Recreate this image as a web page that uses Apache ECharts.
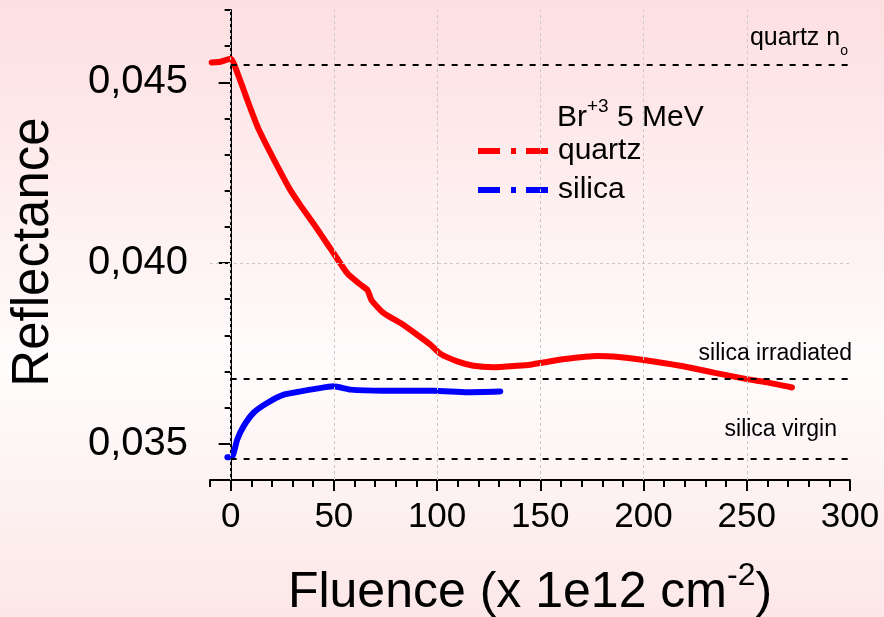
<!DOCTYPE html>
<html>
<head>
<meta charset="utf-8">
<script src="https://cdn.jsdelivr.net/npm/echarts@6/dist/echarts.min.js"></script>
<style>
html,body{margin:0;padding:0;background:#fff;}
#chart{width:884px;height:617px;}
</style>
</head>
<body>
<div id="chart"></div>
<script>
// ---- data ----
const quartzX = [-9.2, -5, 0, 3.4, 8.2, 13.1, 17.9, 24.2, 29, 33.9, 41.1, 46.9, 49.8, 56.6, 63, 66.3, 68.2, 74, 82.3, 90.5, 96.8, 101.6, 109.8, 117.6, 127.3, 138.9, 145.2, 151.5, 161, 177.6, 188, 200, 217.7, 233.9, 250, 260, 271.9];
const quartzY = [0.04555, 0.04557, 0.04565, 0.04524, 0.04449, 0.04376, 0.04320, 0.04251, 0.04201, 0.04159, 0.04101, 0.04052, 0.04028, 0.03971, 0.03940, 0.03925, 0.03898, 0.03862, 0.03834, 0.03801, 0.03774, 0.03749, 0.03728, 0.03716, 0.03712, 0.03716, 0.03719, 0.03725, 0.03734, 0.03743, 0.03740, 0.03732, 0.03716, 0.03697, 0.03679, 0.03670, 0.03656];
const silicaX = [-1.6, 0.5, 3.2, 6.3, 11.1, 17.7, 25.8, 33.9, 41, 49.8, 58, 74, 98.4, 114.5, 130.6];
const silicaY = [0.03463, 0.03463, 0.03512, 0.03549, 0.03586, 0.03613, 0.03636, 0.03645, 0.03652, 0.03659, 0.03650, 0.03647, 0.03647, 0.03643, 0.03645];

const refNames = ['quartz n_o', 'silica irradiated', 'silica virgin'];
const refValues = [0.04549, 0.03679, 0.03460];
const refRange = [0, 300];

const xTickValues = [-10, 0, 10, 20, 30, 40, 50, 60, 70, 80, 90, 100, 110, 120, 130, 140, 150, 160, 170, 180, 190, 200, 210, 220, 230, 240, 250, 260, 270, 280, 290, 300];
const xLabelValues = [0, 50, 100, 150, 200, 250, 300];
const xGridValues = [0, 50, 100, 150, 200, 250];
const yTickValues = [0.034, 0.035, 0.036, 0.037, 0.038, 0.039, 0.040, 0.041, 0.042, 0.043, 0.044, 0.045, 0.046, 0.047];
const yLabelValues = [0.035, 0.040, 0.045];
const yGridValues = [0.035, 0.040, 0.045];

// ---- chart ----
const FONT = '"Liberation Sans", Arial, sans-serif';
const chart = echarts.init(document.getElementById('chart'), null, {renderer: 'canvas'});
const zip = (xs, ys) => xs.map((x, i) => [x, ys[i]]);

const refLabels = [
  {text: '{b|quartz n}{sub|o}', dist: [2, 14]},
  {text: '{a|silica irradiated}', dist: [-2, 13]},
  {text: '{a|silica virgin}', dist: [13, 17]}
];
const richText = {
  a: {fontSize: 23, lineHeight: 24, color: '#000', fontFamily: FONT},
  b: {fontSize: 25, lineHeight: 24, color: '#000', fontFamily: FONT},
  sub: {fontSize: 14, lineHeight: 10, padding: [26, 0, 0, 0], color: '#000', fontFamily: FONT}
};

const quartzIcon = 'path://M0,0H22V6H0Z M33,0H38V6H33Z M48,0H70V6H48Z';

const option = {
  animation: false,
  backgroundColor: {
    type: 'linear', x: 0, y: 0, x2: 0, y2: 1,
    colorStops: [
      {offset: 0, color: '#fddfe1'},
      {offset: 0.6, color: '#fffcfc'},
      {offset: 1, color: '#fce7e7'}
    ]
  },
  textStyle: {fontFamily: FONT},
  grid: {left: 210, top: 10, right: 34, bottom: 137, containLabel: false, outerBoundsMode: 'none'},
  legend: {
    orient: 'vertical', left: 478, top: 136, padding: 0,
    itemWidth: 70, itemHeight: 6, itemGap: 9, selectedMode: false,
    textStyle: {fontSize: 30, lineHeight: 30, color: '#000', fontFamily: FONT, padding: [0, 0, 0, 5]},
    data: [{name: 'quartz', icon: quartzIcon}, {name: 'silica', icon: quartzIcon}]
  },
  graphic: [{
    type: 'text', left: 557, top: 97,
    style: {
      text: '{a|Br}{sup|+3}{a| 5 MeV}',
      rich: {
        a: {fontSize: 30, lineHeight: 30, fill: '#000', fontFamily: FONT},
        sup: {fontSize: 19, lineHeight: 10, padding: [0, 0, 22, 0], fill: '#000', fontFamily: FONT}
      }
    }
  }],
  xAxis: [{
    type: 'value', min: -10, max: 300, position: 'bottom',
    name: '{a|Fluence (x 1e12 cm}{sup|-2}{a|)}',
    nameLocation: 'middle', nameGap: 88,
    nameTextStyle: {
      rich: {
        a: {fontSize: 50, lineHeight: 50, color: '#000', fontFamily: FONT},
        sup: {fontSize: 32, lineHeight: 12, padding: [0, 0, 33, 0], color: '#000', fontFamily: FONT}
      }
    },
    axisLine: {show: true, lineStyle: {color: '#000', width: 2}},
    axisTick: {show: true, length: 7, customValues: xTickValues, lineStyle: {color: '#000', width: 2}},
    axisLabel: {customValues: xLabelValues, fontSize: 35, color: '#000', margin: 20, fontFamily: FONT},
    splitLine: {show: false}
  }, {
    type: 'value', min: -10, max: 300, position: 'bottom',
    axisLine: {show: false},
    axisTick: {show: true, length: 11, customValues: xLabelValues, lineStyle: {color: '#000', width: 2}},
    axisLabel: {show: false},
    splitLine: {show: false}
  }],
  yAxis: [{
    type: 'value', min: 0.034, max: 0.047, position: 'left',
    name: 'Reflectance', nameLocation: 'middle', nameGap: 151,
    nameTextStyle: {fontSize: 51, lineHeight: 50, color: '#000', fontFamily: FONT, padding: [0, 14, 0, 0]},
    axisLine: {show: true, lineStyle: {color: '#000', width: 2}},
    axisTick: {show: true, length: 6, customValues: yTickValues, lineStyle: {color: '#000', width: 2}},
    axisLabel: {customValues: yLabelValues, fontSize: 40, color: '#000', margin: 22, fontFamily: FONT,
      formatter: v => v.toFixed(3).replace('.', ',')},
    splitLine: {show: false}
  }, {
    type: 'value', min: 0.034, max: 0.047, position: 'left',
    axisLine: {show: false},
    axisTick: {show: true, length: 12, customValues: yLabelValues, lineStyle: {color: '#000', width: 2}},
    axisLabel: {show: false},
    splitLine: {show: false}
  }],
  series: [{
    type: 'line', name: 'grid', data: [], silent: true,
    markLine: {
      symbol: 'none', silent: true, animation: false,
      lineStyle: {color: '#c8c8c8', type: [3, 3], width: 1},
      label: {show: false},
      data: xGridValues.map(v => ({xAxis: v})).concat(yGridValues.map(v => ({yAxis: v})))
    }
  }, {
    type: 'line', name: 'refs', data: [], silent: true,
    markLine: {
      symbol: 'none', silent: true, animation: false,
      lineStyle: {color: '#000', type: [6, 7], width: 2},
      data: refValues.map((v, i) => [
        {coord: [refRange[0], v], name: refNames[i],
          label: {show: true, position: 'insideEndTop', distance: refLabels[i].dist,
            formatter: refLabels[i].text, rich: richText}},
        {coord: [refRange[1], v]}
      ])
    }
  }, {
    type: 'line', name: 'quartz', data: zip(quartzX, quartzY),
    showSymbol: false, smooth: 0.2,
    itemStyle: {color: '#ff0000'},
    lineStyle: {color: '#ff0000', width: 6, cap: 'round', join: 'round'}
  }, {
    type: 'line', name: 'silica', data: zip(silicaX, silicaY),
    showSymbol: false, smooth: 0.2,
    itemStyle: {color: '#0000ff'},
    lineStyle: {color: '#0000ff', width: 6, cap: 'round', join: 'round'}
  }]
};
chart.setOption(option);
</script>
</body>
</html>
